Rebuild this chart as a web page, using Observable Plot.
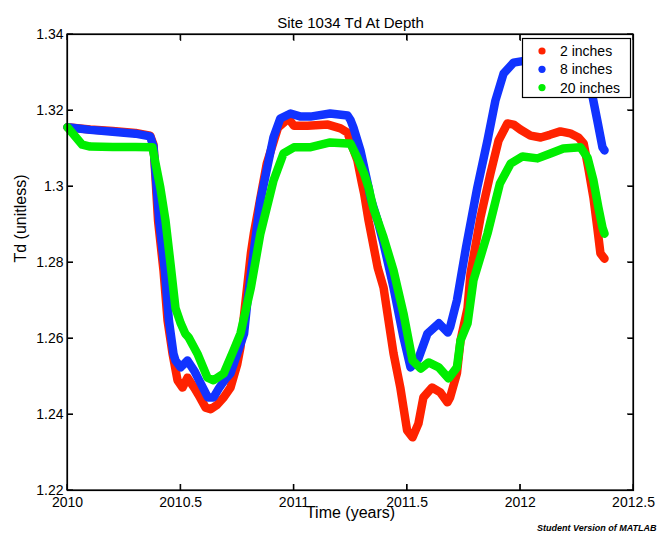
<!DOCTYPE html>
<html><head><meta charset="utf-8">
<script src="https://cdn.jsdelivr.net/npm/d3@7"></script>
<script src="https://cdn.jsdelivr.net/npm/@observablehq/plot@0.6"></script>
<style>body{margin:0;background:#fff} svg{display:block}</style>
</head><body><div id="chart"></div>
<script>
const chartTitle = "Site 1034 Td At Depth";
const xLabel = "Time (years)";
const yLabel = "Td (unitless)";
const credit = "Student Version of MATLAB";
const seriesNames = ["2 inches", "8 inches", "20 inches"];
const seriesColors = ["#ff2200", "#1133ff", "#00ee00"];
const xTicks = [2010, 2010.5, 2011, 2011.5, 2012, 2012.5];
const xTickLabels = ["2010", "2010.5", "2011", "2011.5", "2012", "2012.5"];
const yTicks = [1.22, 1.24, 1.26, 1.28, 1.30, 1.32, 1.34];
const yTickLabels = ["1.22", "1.24", "1.26", "1.28", "1.3", "1.32", "1.34"];

// 2 inches
const years2 = [2010.00, 2010.10, 2010.20, 2010.30, 2010.365, 2010.38, 2010.40, 2010.424, 2010.442, 2010.464, 2010.486, 2010.508, 2010.53, 2010.56, 2010.585, 2010.61, 2010.632, 2010.66, 2010.69, 2010.72, 2010.75, 2010.764, 2010.81, 2010.823, 2010.88, 2010.93, 2010.976, 2011.00, 2011.06, 2011.15, 2011.206, 2011.237, 2011.255, 2011.28, 2011.30, 2011.31, 2011.33, 2011.37, 2011.396, 2011.418, 2011.44, 2011.47, 2011.50, 2011.524, 2011.55, 2011.572, 2011.61, 2011.647, 2011.678, 2011.69, 2011.72, 2011.736, 2011.767, 2011.78, 2011.824, 2011.868, 2011.904, 2011.943, 2011.97, 2012.00, 2012.045, 2012.09, 2012.13, 2012.177, 2012.22, 2012.257, 2012.28, 2012.30, 2012.323, 2012.34, 2012.354, 2012.372];
const td2 = [1.3156, 1.3150, 1.3146, 1.3141, 1.3134, 1.3110, 1.2910, 1.2779, 1.2647, 1.2560, 1.2490, 1.2471, 1.2497, 1.2470, 1.2445, 1.2418, 1.2414, 1.2425, 1.2445, 1.2471, 1.2533, 1.2577, 1.2824, 1.2876, 1.3060, 1.3155, 1.3179, 1.3160, 1.3160, 1.3163, 1.3153, 1.3142, 1.3110, 1.3070, 1.3010, 1.2982, 1.2910, 1.2787, 1.2734, 1.2647, 1.2561, 1.2471, 1.2358, 1.2340, 1.2376, 1.2445, 1.2471, 1.2458, 1.2432, 1.2445, 1.2508, 1.2595, 1.2680, 1.2771, 1.2918, 1.3034, 1.3121, 1.3166, 1.3163, 1.3150, 1.3134, 1.3129, 1.3136, 1.3145, 1.3140, 1.3129, 1.3113, 1.3050, 1.2971, 1.2892, 1.2824, 1.2810];

// 8 inches
const years8 = [2010.00, 2010.10, 2010.20, 2010.30, 2010.365, 2010.38, 2010.405, 2010.43, 2010.448, 2010.468, 2010.477, 2010.50, 2010.53, 2010.56, 2010.59, 2010.62, 2010.645, 2010.67, 2010.70, 2010.72, 2010.78, 2010.795, 2010.852, 2010.91, 2010.94, 2010.985, 2011.03, 2011.073, 2011.16, 2011.237, 2011.25, 2011.263, 2011.294, 2011.33, 2011.338, 2011.37, 2011.396, 2011.44, 2011.484, 2011.515, 2011.55, 2011.59, 2011.64, 2011.68, 2011.69, 2011.72, 2011.76, 2011.81, 2011.855, 2011.89, 2011.926, 2011.97, 2012.01, 2012.10, 2012.20, 2012.25, 2012.29, 2012.32, 2012.34, 2012.363, 2012.372];
const td8 = [1.3156, 1.3149, 1.3144, 1.3139, 1.3132, 1.3105, 1.2910, 1.2779, 1.2647, 1.2560, 1.2542, 1.2524, 1.2542, 1.2515, 1.2480, 1.2445, 1.2445, 1.2470, 1.2495, 1.2508, 1.2613, 1.2700, 1.2963, 1.3130, 1.3179, 1.3192, 1.3184, 1.3184, 1.3192, 1.3187, 1.3175, 1.3155, 1.3095, 1.2997, 1.2971, 1.2910, 1.2850, 1.2734, 1.2603, 1.2524, 1.2547, 1.2613, 1.2640, 1.2616, 1.2630, 1.2700, 1.2839, 1.2997, 1.3121, 1.3226, 1.3297, 1.3326, 1.3330, 1.3330, 1.3330, 1.3320, 1.3285, 1.3234, 1.3174, 1.3103, 1.3095];

// 20 inches
const years20 = [2010.00, 2010.065, 2010.10, 2010.20, 2010.30, 2010.375, 2010.41, 2010.433, 2010.455, 2010.477, 2010.50, 2010.52, 2010.535, 2010.574, 2010.618, 2010.645, 2010.69, 2010.733, 2010.764, 2010.81, 2010.852, 2010.91, 2010.954, 2011.00, 2011.07, 2011.16, 2011.237, 2011.25, 2011.28, 2011.31, 2011.33, 2011.35, 2011.396, 2011.44, 2011.484, 2011.524, 2011.56, 2011.595, 2011.64, 2011.683, 2011.72, 2011.736, 2011.767, 2011.793, 2011.855, 2011.91, 2011.957, 2012.01, 2012.076, 2012.133, 2012.19, 2012.266, 2012.297, 2012.323, 2012.345, 2012.363, 2012.372];
const td20 = [1.3156, 1.3110, 1.3105, 1.3104, 1.3104, 1.3103, 1.2997, 1.2910, 1.2797, 1.2680, 1.2640, 1.2613, 1.2603, 1.2560, 1.2497, 1.2490, 1.2508, 1.2568, 1.2613, 1.2734, 1.2876, 1.3016, 1.3087, 1.3103, 1.3103, 1.3116, 1.3113, 1.3113, 1.3076, 1.3034, 1.2997, 1.2945, 1.2866, 1.2779, 1.2666, 1.2542, 1.2521, 1.2537, 1.2524, 1.2495, 1.2524, 1.2595, 1.2640, 1.2753, 1.2876, 1.3008, 1.3060, 1.3079, 1.3074, 1.3087, 1.3100, 1.3103, 1.3076, 1.3016, 1.2945, 1.2892, 1.2876];

const seriesYears = [years2, years8, years20];
const seriesTd = [td2, td8, td20];
const seriesRows = seriesNames.map((name, s) =>
  seriesYears[s].map((yr, i) => ({series: name, year: yr, td: seriesTd[s][i]})));

const fmtX = d => xTickLabels[xTicks.indexOf(d)];
const fmtY = d => yTickLabels[yTicks.indexOf(d)];
const FONT = "'Liberation Sans', Arial, Helvetica, sans-serif";

const lineMarks = seriesRows.map((rows, s) =>
  Plot.line(rows, {x: "year", y: "td", stroke: seriesColors[s], strokeWidth: 8.5, strokeLinejoin: "round", strokeLinecap: "round"}));

const chart = Plot.plot({
  width: 662,
  height: 539,
  marginTop: 34,
  marginRight: 29,
  marginBottom: 49,
  marginLeft: 67,
  style: {fontFamily: FONT, fontSize: "14px", background: "#fff", color: "#000"},
  x: {domain: [2010, 2012.5]},
  y: {domain: [1.22, 1.34]},
  marks: [
    ...lineMarks,
    Plot.frame({stroke: "#000", strokeWidth: 1.2}),
    Plot.axisX({anchor: "bottom", ticks: xTicks, tickFormat: fmtX, tickSize: 0, tickPadding: 7, label: null}),
    Plot.axisY({anchor: "left", ticks: yTicks, tickFormat: fmtY, tickSize: 0, tickPadding: 4, label: null}),
    Plot.axisX({anchor: "bottom", ticks: xTicks, tickSize: -6, fill: "none", label: null}),
    Plot.axisX({anchor: "top", ticks: xTicks, tickSize: -6, fill: "none", label: null}),
    Plot.axisY({anchor: "left", ticks: yTicks, tickSize: -6, fill: "none", label: null}),
    Plot.axisY({anchor: "right", ticks: yTicks, tickSize: -6, fill: "none", label: null}),
    Plot.text([chartTitle], {frameAnchor: "top", dy: -17, fontSize: 15}),
    Plot.text([xLabel], {frameAnchor: "bottom", dy: 27, fontSize: 16}),
    Plot.text([yLabel], {frameAnchor: "left", dx: -47, rotate: -90, fontSize: 16}),
    Plot.text([credit], {frameAnchor: "bottom-right", textAnchor: "end", dx: 23, dy: 40, fontSize: 9, fontWeight: "bold", fontStyle: "italic"})
  ]
});
document.getElementById("chart").appendChild(chart);

const svg = d3.select(chart);

// axes box with inward ticks on all four sides, placed with Plot's own scales
const sx = chart.scale("x"), sy = chart.scale("y");
const X0 = sx.apply(2010), X1 = sx.apply(2012.5), Y0 = sy.apply(1.34), Y1 = sy.apply(1.22);
const box = svg.append("g").attr("stroke", "#000").attr("fill", "none").attr("stroke-width", 1.2);
box.append("rect").attr("x", X0).attr("y", Y0).attr("width", X1 - X0).attr("height", Y1 - Y0);
xTicks.forEach(t => {
  const px = sx.apply(t);
  box.append("line").attr("x1", px).attr("x2", px).attr("y1", Y1).attr("y2", Y1 - 6);
  box.append("line").attr("x1", px).attr("x2", px).attr("y1", Y0).attr("y2", Y0 + 6);
});
yTicks.forEach(t => {
  const py = sy.apply(t);
  box.append("line").attr("x1", X0).attr("x2", X0 + 6).attr("y1", py).attr("y2", py);
  box.append("line").attr("x1", X1).attr("x2", X1 - 6).attr("y1", py).attr("y2", py);
});

// legend box inside the axes (top-right), as in the reference
const lg = svg.append("g").attr("font-family", FONT).attr("font-size", 14).attr("text-anchor", "start");
lg.append("rect").attr("x", 522.5).attr("y", 38.5).attr("width", 108).attr("height", 59)
  .attr("fill", "#fff").attr("stroke", "#000").attr("stroke-width", 1.2);
seriesNames.forEach((name, i) => {
  const cy = 51 + i * 18.3;
  lg.append("circle").attr("cx", 542).attr("cy", cy).attr("r", 3.6).attr("fill", seriesColors[i]);
  lg.append("text").attr("x", 560).attr("y", cy).attr("dy", "0.35em").attr("text-anchor", "start").attr("fill", "#000").text(name);
});
</script>
</body></html>
